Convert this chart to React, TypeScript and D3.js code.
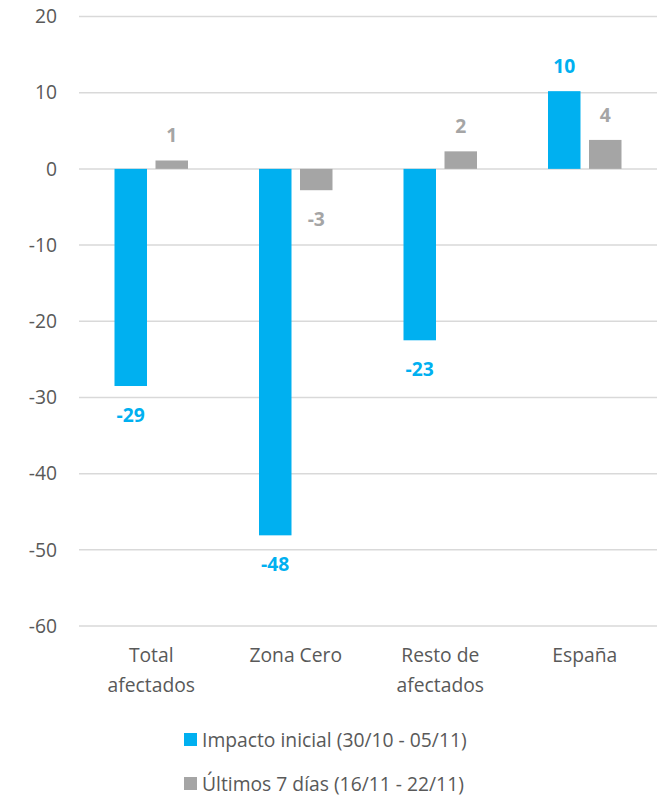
import React from "react";
import * as d3 from "d3";

const categories = [["Total", "afectados"], ["Zona Cero"], ["Resto de", "afectados"], ["España"]];
const seriesNames = ["Impacto inicial (30/10 - 05/11)", "Últimos 7 días (16/11 - 22/11)"];
const impacto = [-28.5, -48.1, -22.5, 10.2];
const ultimos = [1.1, -2.8, 2.3, 3.8];
const impactoLabels = ["-29", "-48", "-23", "10"];
const ultimosLabels = ["1", "-3", "2", "4"];
const yTicks = [20, 10, 0, -10, -20, -30, -40, -50, -60];
const colors = ["#00B0F0", "#A5A5A5"];

const W = 657, H = 796;
const font = "'Open Sans', sans-serif";
const fs = 19.3;

export default function App() {
  const y = d3.scaleLinear().domain([-60, 20]).range([626, 16.5]);
  const x = d3.scaleBand().domain(categories.map((_, i) => String(i))).range([79, 657]);
  const barW = 32.5;
  const gap = 8.5;
  const series = [impacto, ultimos];
  const labels = [impactoLabels, ultimosLabels];
  return (
    <svg width={W} height={H} style={{ position: "absolute", left: 0, top: 0 }} fontFamily={font}>
      <rect width={W} height={H} fill="#fff" />
      {yTicks.map((t) => (
        <g key={t}>
          <line x1={79} x2={657} y1={y(t)} y2={y(t)} stroke="#D9D9D9" strokeWidth={1.5} />
          <text x={57} y={y(t)} dy="0.35em" textAnchor="end" fontSize={fs} fill="#595959">{t}</text>
        </g>
      ))}
      {categories.map((c, i) => {
        const cx = x(String(i))! + x.bandwidth() / 2;
        return (
          <g key={i}>
            {series.map((s, k) => {
              const v = s[i];
              const bx = cx - (barW + gap / 2) + k * (barW + gap);
              const y0 = y(0), y1 = y(v);
              const top = Math.min(y0, y1), h = Math.abs(y1 - y0);
              const ly = v >= 0 ? y1 - 18 : y1 + 36;
              return (
                <g key={k}>
                  <rect x={bx} y={top} width={barW} height={h} fill={colors[k]} />
                  <text x={bx + barW / 2} y={ly} textAnchor="middle" fontSize={fs} fontWeight="bold" fill={colors[k]}>{labels[k][i]}</text>
                </g>
              );
            })}
            {c.map((line, j) => (
              <text key={j} x={cx} y={662 + j * 30} textAnchor="middle" fontSize={fs} fill="#595959">{line}</text>
            ))}
          </g>
        );
      })}
      {seriesNames.map((n, k) => (
        <g key={k}>
          <rect x={184} y={733 + k * 44} width={13} height={13} fill={colors[k]} />
          <text x={202} y={747 + k * 44} fontSize={fs} fill="#595959">{n}</text>
        </g>
      ))}
    </svg>
  );
}
